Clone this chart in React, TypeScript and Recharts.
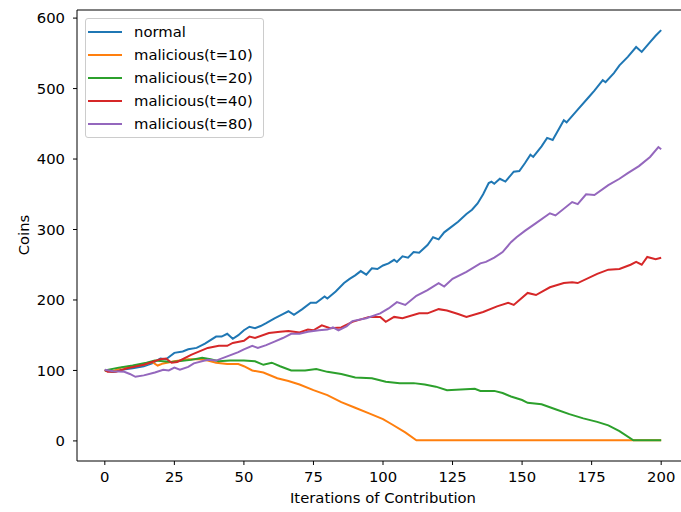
import {
  Label,
  Legend,
  Line,
  LineChart,
  ReferenceLine,
  XAxis,
  YAxis,
} from "recharts";

type Pt = [number, number];

const iterTicks = [0, 25, 50, 75, 100, 125, 150, 175, 200];
const coinTicks = [0, 100, 200, 300, 400, 500, 600];

const normal: Pt[] = [
  [0, 100], [3, 98], [6, 101], [10, 103], [14, 106], [17, 110], [20, 117], [22, 116],
  [25, 125], [28, 127], [30, 130], [33, 132], [36, 138], [40, 148], [42, 148], [44, 152],
  [46, 145], [48, 150], [50, 157], [52, 162], [54, 160], [56, 163], [58, 167], [61, 174],
  [64, 180], [66, 184], [68, 179], [71, 187], [74, 196], [76, 196], [79, 205], [80, 202],
  [83, 212], [86, 224], [88, 230], [90, 235], [92, 241], [94, 236], [96, 245], [98, 244],
  [100, 249], [102, 252], [104, 257], [105, 254], [107, 262], [109, 260], [111, 268],
  [113, 267], [116, 278], [118, 289], [120, 286], [122, 296], [124, 302], [127, 311],
  [130, 322], [132, 328], [134, 337], [136, 350], [138, 366], [139, 368], [140, 365],
  [142, 372], [144, 368], [147, 382], [149, 383], [151, 394], [153, 406], [154, 403],
  [157, 418], [159, 430], [161, 427], [165, 455], [166, 452], [170, 470], [174, 488],
  [176, 497], [179, 512], [180, 509], [183, 522], [185, 533], [188, 545], [191, 559],
  [193, 552], [196, 566], [198, 575], [200, 583],
];

const malicious10: Pt[] = [
  [0, 100], [3, 99], [6, 104], [10, 106], [14, 108], [17, 112], [19, 107], [21, 110],
  [25, 113], [30, 116], [34, 116], [37, 114], [40, 111], [44, 109], [48, 109], [50, 106],
  [53, 100], [57, 97], [62, 89], [66, 85], [70, 80], [75, 72], [80, 65], [85, 55],
  [90, 47], [95, 39], [100, 31], [103, 24], [108, 12], [112, 1], [200, 1],
];

const malicious20: Pt[] = [
  [0, 100], [5, 104], [10, 107], [15, 111], [18, 114], [24, 112], [31, 115], [35, 118],
  [38, 116], [41, 113], [45, 114], [50, 114], [54, 113], [57, 108], [60, 111], [63, 106],
  [67, 100], [72, 100], [76, 102], [80, 98], [85, 95], [90, 90], [96, 89], [101, 84],
  [106, 82], [111, 82], [115, 80], [119, 77], [123, 72], [128, 73], [133, 74], [135, 71],
  [140, 71], [143, 68], [146, 63], [150, 58], [152, 54], [157, 52], [162, 45], [167, 38],
  [172, 32], [177, 27], [181, 22], [185, 14], [190, 1], [200, 1],
];

const malicious40: Pt[] = [
  [0, 101], [1, 98], [4, 98], [8, 103], [14, 108], [20, 116], [22, 117], [24, 111],
  [26, 112], [31, 122], [37, 132], [41, 135], [44, 135], [46, 139], [50, 142], [52, 148],
  [54, 146], [59, 153], [63, 155], [66, 156], [70, 154], [73, 158], [75, 157], [78, 164],
  [81, 160], [85, 161], [89, 169], [95, 176], [99, 176], [101, 169], [104, 176], [107, 174],
  [113, 181], [116, 181], [120, 187], [123, 185], [127, 180], [130, 176], [136, 183],
  [141, 191], [145, 196], [147, 193], [152, 210], [155, 207], [160, 218], [165, 224],
  [168, 225], [170, 224], [177, 237], [181, 243], [185, 244], [189, 250], [191, 254],
  [193, 250], [195, 261], [198, 258], [200, 260],
];

const malicious80: Pt[] = [
  [0, 101], [3, 99], [7, 98], [9, 95], [11, 91], [14, 93], [18, 97], [21, 101], [23, 100],
  [25, 104], [27, 101], [30, 105], [32, 110], [37, 115], [40, 114], [44, 120], [48, 126],
  [50, 130], [53, 135], [55, 132], [58, 136], [61, 141], [64, 146], [67, 152], [70, 152],
  [73, 155], [77, 157], [80, 158], [82, 161], [84, 157], [87, 163], [89, 170], [94, 174],
  [99, 181], [102, 188], [105, 197], [108, 193], [112, 206], [116, 214], [120, 224],
  [122, 219], [125, 230], [130, 240], [135, 252], [137, 254], [140, 260], [143, 268],
  [146, 282], [148, 289], [151, 298], [155, 309], [160, 323], [162, 320], [168, 339],
  [170, 336], [173, 350], [176, 349], [181, 363], [185, 372], [188, 380], [192, 390],
  [196, 403], [199, 417], [200, 414],
];

const series = [
  { name: "normal", color: "#1f77b4", points: normal },
  { name: "malicious(t=10)", color: "#ff7f0e", points: malicious10 },
  { name: "malicious(t=20)", color: "#2ca02c", points: malicious20 },
  { name: "malicious(t=40)", color: "#d62728", points: malicious40 },
  { name: "malicious(t=80)", color: "#9467bd", points: malicious80 },
];

const X_DOMAIN: [number, number] = [-10, 210];
const Y_DOMAIN: [number, number] = [-28.5, 611.5];
const FONT = "'DejaVu Sans', sans-serif";
const tickStyle = { fill: "#000", fontSize: 14.8, fontFamily: FONT };

const toRows = (pts: Pt[]) => pts.map(([x, y]) => ({ x, y }));

const LegendBox = () => (
  <div
    style={{
      border: "1px solid #cccccc",
      borderRadius: 3,
      background: "rgba(255,255,255,0.8)",
      padding: "1px 10px 2px 2px",
      fontFamily: FONT,
      fontSize: 14.8,
      color: "#000",
    }}
  >
    {series.map((s) => (
      <div key={s.name} style={{ display: "flex", alignItems: "center", height: 23 }}>
        <span
          style={{ display: "inline-block", width: 34, height: 2, background: s.color, marginRight: 12 }}
        />
        <span style={{ whiteSpace: "nowrap" }}>{s.name}</span>
      </div>
    ))}
  </div>
);

export default function App() {
  return (
    <div
      style={{
        position: "fixed",
        left: 0,
        top: 0,
        width: 681,
        height: 512,
        overflow: "hidden",
        background: "#fff",
      }}
    >
      <LineChart width={700} height={512} margin={{ top: 10, right: 11, bottom: 0, left: 0 }}>
        <XAxis
          type="number"
          dataKey="x"
          domain={X_DOMAIN}
          ticks={iterTicks}
          allowDataOverflow
          height={51}
          tick={tickStyle}
          tickSize={4}
          tickMargin={6}
          stroke="#000"
          axisLine={{ stroke: "#000", strokeWidth: 1 }}
          tickLine={{ stroke: "#000" }}
        >
          <Label
            content={() => (
              <text x={383} y={503} textAnchor="middle" fontFamily={FONT} fontSize={14.8} fill="#000">
                Iterations of Contribution
              </text>
            )}
          />
        </XAxis>
        <YAxis
          type="number"
          domain={Y_DOMAIN}
          ticks={coinTicks}
          allowDataOverflow
          width={77}
          tick={tickStyle}
          tickSize={4}
          tickMargin={8}
          stroke="#000"
          axisLine={{ stroke: "#000", strokeWidth: 1 }}
          tickLine={{ stroke: "#000" }}
        >
          <Label
            content={() => (
              <text
                x={23}
                y={235}
                transform="rotate(-90 23 235)"
                textAnchor="middle"
                dominantBaseline="central"
                fontFamily={FONT}
                fontSize={14.8}
                fill="#000"
              >
                Coins
              </text>
            )}
          />
        </YAxis>
        <ReferenceLine y={Y_DOMAIN[1]} stroke="#000" strokeWidth={1} ifOverflow="visible" />
        {series.map((s) => (
          <Line
            key={s.name}
            data={toRows(s.points)}
            dataKey="y"
            name={s.name}
            type="linear"
            stroke={s.color}
            strokeWidth={2}
            dot={false}
            activeDot={false}
            isAnimationActive={false}
          />
        ))}
        <Legend
          layout="vertical"
          align="center"
          verticalAlign="middle"
          content={() => <LegendBox />}
          wrapperStyle={{ left: 85, top: 18, width: "auto", height: "auto" }}
        />
      </LineChart>
    </div>
  );
}
